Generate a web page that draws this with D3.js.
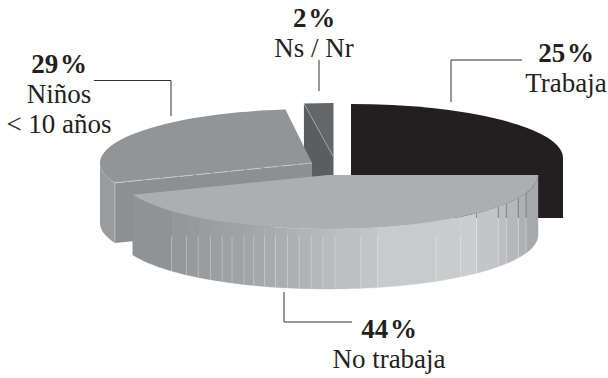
<!DOCTYPE html>
<html>
<head>
<meta charset="utf-8">
<script src="https://cdn.jsdelivr.net/npm/d3@7"></script>
<style>
	html, body { margin: 0; padding: 0; background: #fff; }
	svg { display: block; }
	text { font-family: "Liberation Serif", serif; font-size: 27px; fill: #231f20; text-anchor: middle; }
	tspan.pct { font-weight: bold; word-spacing: -5px; }
</style>
</head>
<body>
<div id="chart"></div>
<script>
const categories = ['Trabaja', 'No trabaja', 'Niños', 'Ns / Nr'];
const shares = [25, 44, 29, 2];
const labelLines = [['25 %', 'Trabaja'], ['44 %', 'No trabaja'], ['29 %', 'Niños', '< 10 años'], ['2 %', 'Ns / Nr']];

// angles (degrees clockwise from the top) where the front wall changes tone
const wallBreaks = [109.4, 115, 121.9, 125.8, 135, 140.8, 149, 166.4, 171, 178.1, 181.4, 184.6, 187.9, 191.1,
	194.5, 197.6, 200.7, 203.6, 207.2, 210.3, 214.1, 218.2, 222.4, 228.2];

const width = 608, height = 378,
	ry = 54, depth = 60,
	rad = Math.PI / 180;

const sliceStyle = [
	{cx: 351, cy: 158, rx: 212, top: '#231f20', wall: '#231f20', cut: '#231f20'},
	{cx: 328, cy: 175, rx: 210, top: '#adaeb0', wall: '#b0b1b3', cut: '#adaeb0'},
	{cx: 312, cy: 163, rx: 212, top: '#939497', wall: '#9a9b9d', cut: '#8e8f91'},
	{cx: 333.5, cy: 157, rx: 236, top: '#656668', wall: '#5c5d5f', cut: '#5c5d5f'},
];

const labelPos = [
	{x: 566, y: 62}, {x: 389, y: 338}, {x: 59, y: 73}, {x: 314, y: 27},
];
const leaders = [
	[[451, 102], [451, 60], [522, 60]],
	[[284, 292], [284, 322], [352, 322]],
	[[94, 80.5], [171, 80.5], [171, 116]],
	[[319, 60], [319, 91]],
];

const wallTone = d3.scaleLinear()
	.domain([-197, -158, -80, -30, 10, 70, 140, 172, 210])
	.range(['#8f9092', '#949597', '#a3a4a6', '#b0b1b3', '#bdbebf', '#c9cacb', '#cbcccd', '#bfc0c1', '#a5a6a8'])
	.clamp(true);

const svg = d3.select('#chart').append('svg')
	.attr('width', width)
	.attr('height', height);

const slices = d3.pie().sort(null).startAngle(0).endAngle(2 * Math.PI)(shares);
const arc = d3.arc().innerRadius(0).outerRadius(1);
const line = d3.line();

function rim(s, a){
	return [s.cx + s.rx * Math.sin(a), s.cy - ry * Math.cos(a)];
}

function wallPath(s, a0, a1){
	const n = Math.max(2, Math.ceil((a1 - a0) / (rad * 2)));
	const angles = d3.range(n + 1).map(i => a0 + (a1 - a0) * i / n);
	const upper = angles.map(a => rim(s, a));
	const lower = upper.map(p => [p[0], p[1] + depth]).reverse();
	return line(upper.concat(lower)) + 'Z';
}

function cutPath(s, a){
	const p = rim(s, a);
	return line([[s.cx, s.cy], p, [p[0], p[1] + depth], [s.cx, s.cy + depth]]) + 'Z';
}

function drawSlice(d, i){
	const s = sliceStyle[i], g = svg.append('g').attr('class', 'slice');

	// cut faces turned towards the viewer
	const backStart = d.startAngle > Math.PI && d.startAngle < 2 * Math.PI,
		backEnd = d.endAngle > 0 && d.endAngle < Math.PI;
	if(backStart) g.append('path').attr('d', cutPath(s, d.startAngle)).attr('fill', s.cut);
	if(backEnd) g.append('path').attr('d', cutPath(s, d.endAngle)).attr('fill', s.cut);

	const a0 = Math.max(d.startAngle, Math.PI / 2), a1 = Math.min(d.endAngle, 3 * Math.PI / 2);
	if(a1 > a0){
		if(i === 1){
			const breaks = [a0, ...wallBreaks.map(b => b * rad), a1];
			d3.pairs(breaks).forEach(([b0, b1]) => {
				const tone = wallTone(s.rx * Math.sin((b0 + b1) / 2));
				g.append('path').attr('d', wallPath(s, b0, b1))
					.attr('fill', tone).attr('stroke', tone).attr('stroke-width', 0.4);
			});
			wallBreaks.forEach(b => {
				const p = rim(s, b * rad), bottom = p[1] + depth;
				if(p[0] > 470){
					g.append('line').attr('x1', p[0]).attr('x2', p[0]).attr('y1', p[1]).attr('y2', 218)
						.attr('stroke', '#77787a').attr('stroke-width', 0.8);
					g.append('line').attr('x1', p[0]).attr('x2', p[0]).attr('y1', 218).attr('y2', bottom)
						.attr('stroke', '#fff').attr('stroke-opacity', 0.4).attr('stroke-width', 0.8);
				} else {
					g.append('line').attr('x1', p[0]).attr('x2', p[0]).attr('y1', Math.max(p[1], 236)).attr('y2', bottom)
						.attr('stroke', '#fff').attr('stroke-opacity', 0.35).attr('stroke-width', 0.8);
				}
			});
		} else {
			g.append('path').attr('d', wallPath(s, a0, a1)).attr('fill', s.wall);
		}
	}

	g.append('path')
		.attr('d', arc(d))
		.attr('transform', `translate(${s.cx},${s.cy}) scale(${s.rx},${ry})`)
		.attr('fill', s.top);

	// pale seams of the original artwork
	if(i === 2){
		const p = rim(s, d.startAngle);
		g.append('path').attr('d', line([[s.cx, s.cy], p]))
			.attr('stroke', '#d5d6d7').attr('stroke-width', 0.7).attr('stroke-dasharray', '14 3').attr('fill', 'none');
		g.append('path').attr('d', line([p, [p[0], p[1] + depth]]))
			.attr('stroke', '#c4c5c6').attr('stroke-width', 0.7).attr('fill', 'none');
	}
	if(i === 3){
		g.append('path').attr('d', line([rim(s, d.startAngle), [s.cx, s.cy]]))
			.attr('stroke', '#a9aaac').attr('stroke-width', 0.7).attr('fill', 'none');
	}
}

// back slices first, the front one last
[0, 3, 2, 1].forEach(i => drawSlice(slices[i], i));

leaders.forEach(pts => {
	svg.append('path').attr('d', line(pts))
		.attr('fill', 'none').attr('stroke', '#333132').attr('stroke-width', 1);
});

categories.forEach((c, i) => {
	const t = svg.append('text').attr('class', 'label');
	labelLines[i].forEach((txt, j) => {
		t.append('tspan')
			.attr('class', j === 0 ? 'pct' : null)
			.attr('x', labelPos[i].x)
			.attr('y', labelPos[i].y + j * 30)
			.text(txt);
	});
});
</script>
</body>
</html>
